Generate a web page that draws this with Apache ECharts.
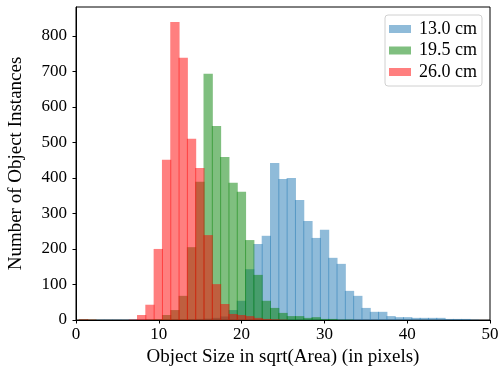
<!DOCTYPE html>
<html lang="en">
<head>
    <meta charset="UTF-8">
    <title>Object size histogram</title>
    <script src="https://cdn.jsdelivr.net/npm/echarts@6/dist/echarts.min.js"></script>
    <style type="text/css">
        html, body {
            margin: 0;
            height: 100%;
            background: #fff;
        }
    </style>
</head>
<body>

<div id="main" style="width: 501px;height:368px;"></div>

<script>
    // histogram bins: edge k = BIN_START + k * BIN_WIDTH
    const BIN_START = 0.4;
    const BIN_WIDTH = 1.004;

    const seriesNames = ['13.0 cm', '19.5 cm', '26.0 cm'];

    const counts13 = [2, 0, 1, 1, 1, 1, 1, 1, 1, 1, 1, 1, 1, 2, 3, 4, 6, 10, 28, 54,
        143, 214, 237, 442, 397, 400, 338, 279, 231, 254, 175, 158, 82, 68, 34, 23, 23, 11, 8, 8,
        6, 6, 6, 6, 3, 3, 3, 1];
    const counts19 = [2, 1, 0, 0, 0, 0, 0, 0, 1, 2, 14, 28, 68, 205, 389, 693, 546, 459, 386, 361,
        225, 127, 54, 34, 20, 11, 11, 6, 8, 3, 3, 1, 1, 0, 0, 0, 0, 0, 0, 0,
        0, 0, 0, 0, 0, 0, 0, 0];
    const counts26 = [2, 1, 0, 0, 0, 0, 1, 14, 43, 200, 451, 839, 738, 510, 428, 239, 101, 45, 17, 14,
        11, 6, 3, 2, 1, 0, 0, 0, 0, 0, 0, 0, 0, 0, 0, 0, 0, 0, 0, 0,
        0, 0, 0, 0, 0, 0, 0, 0];

    const xTicks = [0, 10, 20, 30, 40, 50];
    const yTicks = [0, 100, 200, 300, 400, 500, 600, 700, 800];

    const colors = ['rgba(31,119,180,0.5)', 'rgba(0,128,0,0.5)', 'rgba(255,0,0,0.5)'];
    const FONT = 'Liberation Serif';

    function toBins(counts) {
        const out = [];
        counts.forEach(function (c, k) {
            if (c > 0) {
                out.push([BIN_START + k * BIN_WIDTH, BIN_START + (k + 1) * BIN_WIDTH, c]);
            }
        });
        return out;
    }

    function renderBar(params, api) {
        const p0 = api.coord([api.value(0), api.value(2)]);
        const p1 = api.coord([api.value(1), 0]);
        // bars overlap by a pixel so the shared edge shows darker, as in the original
        return {
            type: 'rect',
            shape: {x: p0[0] - 0.5, y: p0[1], width: p1[0] - p0[0] + 1, height: p1[1] - p0[1]},
            style: {fill: api.visual('color')}
        };
    }

    const myChart = echarts.init(document.getElementById('main'), null, {renderer: 'canvas'});

    const allCounts = [counts13, counts19, counts26];

    const option = {
        animation: false,
        textStyle: {fontFamily: FONT},
        grid: {
            left: 76, right: 11, top: 7, bottom: 48,
            outerBoundsMode: 'none',
            containLabel: false,
            show: true, borderColor: '#000', borderWidth: 1
        },
        legend: {
            orient: 'vertical',
            left: 385, top: 15,
            padding: [5, 5, 5, 4],
            itemWidth: 22, itemHeight: 8,
            itemGap: 3.5,
            icon: 'rect',
            borderColor: '#d0d0d0', borderWidth: 1, borderRadius: 3,
            backgroundColor: 'rgba(255,255,255,0.8)',
            textStyle: {fontFamily: FONT, fontSize: 18, color: '#000', lineHeight: 16, padding: [0, 0, 0, 3]},
            data: seriesNames
        },
        xAxis: {
            type: 'value',
            min: xTicks[0], max: xTicks[xTicks.length - 1], interval: 10,
            name: 'Object Size in sqrt(Area) (in pixels)',
            nameLocation: 'middle', nameGap: 25,
            nameTextStyle: {fontFamily: FONT, fontSize: 19, color: '#000'},
            axisLine: {lineStyle: {color: '#000', width: 1}},
            axisTick: {length: 3.5, lineStyle: {color: '#000'}},
            axisLabel: {fontFamily: FONT, fontSize: 17, color: '#000', margin: 6},
            splitLine: {show: false}
        },
        yAxis: {
            type: 'value',
            min: 0, max: 881, interval: 100,
            name: 'Number of Object Instances',
            nameLocation: 'middle', nameGap: 50,
            nameTextStyle: {fontFamily: FONT, fontSize: 19, color: '#000'},
            axisLine: {show: true, lineStyle: {color: '#000', width: 1}},
            axisTick: {show: true, length: 3.5, lineStyle: {color: '#000'}},
            axisLabel: {
                fontFamily: FONT, fontSize: 17, color: '#000', margin: 9,
                showMaxLabel: false,
                formatter: function (v) {
                    return yTicks.indexOf(v) >= 0 ? String(v) : '';
                }
            },
            splitLine: {show: false}
        },
        series: seriesNames.map(function (name, s) {
            return {
                name: name,
                type: 'custom',
                renderItem: renderBar,
                itemStyle: {color: colors[s]},
                encode: {x: [0, 1], y: 2},
                data: toBins(allCounts[s])
            };
        })
    };

    myChart.setOption(option);
</script>
</body>
</html>
